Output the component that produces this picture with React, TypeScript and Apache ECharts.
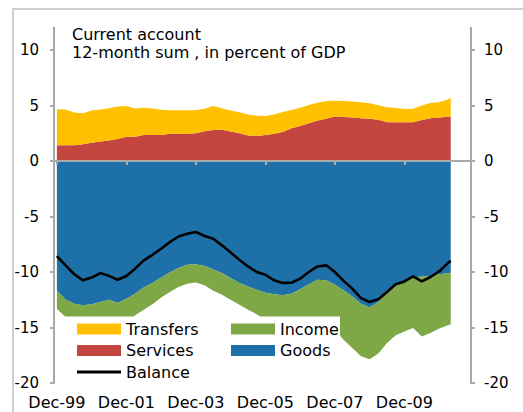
import React, { useEffect, useRef } from "react";
import * as echarts from "echarts";

// months since Dec-1999
const months = [0, 3, 6, 9, 12, 15, 18, 21, 24, 27, 30, 33, 36, 39, 42, 45, 48, 51, 54, 57, 60, 63, 66, 69, 72, 75, 78, 81, 84, 87, 90, 93, 96, 99, 102, 105, 108, 111, 114, 117, 120, 123, 126, 129, 132, 135, 136];

const services = [1.41, 1.41, 1.41, 1.5, 1.65, 1.75, 1.85, 1.99, 2.19, 2.19, 2.34, 2.34, 2.34, 2.46, 2.46, 2.46, 2.5, 2.67, 2.8, 2.82, 2.65, 2.5, 2.3, 2.25, 2.35, 2.46, 2.62, 2.95, 3.15, 3.4, 3.65, 3.81, 4.0, 3.97, 3.93, 3.86, 3.8, 3.72, 3.5, 3.48, 3.48, 3.48, 3.7, 3.85, 3.92, 3.98, 4.0];

const transfers = [3.25, 3.22, 2.97, 2.8, 2.9, 2.9, 2.9, 2.91, 2.76, 2.55, 2.46, 2.38, 2.28, 2.11, 2.12, 2.12, 2.08, 2.03, 2.15, 1.93, 1.9, 1.9, 1.9, 1.83, 1.7, 1.72, 1.8, 1.65, 1.65, 1.65, 1.6, 1.59, 1.42, 1.43, 1.44, 1.44, 1.4, 1.3, 1.35, 1.29, 1.2, 1.22, 1.3, 1.38, 1.38, 1.57, 1.7];

const goods = [-11.7, -12.5, -12.85, -13.0, -12.9, -12.7, -12.5, -12.8, -12.4, -11.95, -11.4, -11.0, -10.5, -10.05, -9.65, -9.35, -9.3, -9.46, -9.78, -10.1, -10.55, -11.0, -11.3, -11.6, -11.88, -12.0, -12.1, -11.95, -11.55, -11.1, -10.7, -10.75, -11.15, -11.65, -12.2, -12.85, -13.2, -12.7, -11.9, -11.3, -10.75, -10.5, -10.4, -10.35, -10.2, -10.12, -10.1];

const income = [-1.6, -1.55, -1.7, -2.0, -2.1, -2.1, -2.5, -2.5, -2.2, -1.95, -2.0, -1.9, -1.8, -1.75, -1.7, -1.7, -1.65, -1.74, -1.92, -1.95, -1.95, -1.95, -2.1, -2.2, -2.42, -2.9, -3.3, -3.6, -3.85, -3.95, -4.05, -4.05, -4.05, -4.45, -4.65, -4.75, -4.65, -4.65, -4.5, -4.4, -4.6, -4.55, -5.4, -5.15, -4.9, -4.68, -4.6];

const balance = [-8.56, -9.4, -10.2, -10.75, -10.5, -10.1, -10.35, -10.7, -10.36, -9.7, -8.95, -8.45, -7.9, -7.3, -6.8, -6.55, -6.4, -6.76, -7.0, -7.6, -8.25, -8.9, -9.5, -10.0, -10.25, -10.75, -10.98, -10.97, -10.6, -10.0, -9.5, -9.4, -10.0, -10.8, -11.5, -12.35, -12.7, -12.45, -11.8, -11.1, -10.85, -10.4, -10.85, -10.45, -9.95, -9.2, -9.0];

const xTickMonths = [0, 24, 48, 72, 96, 120];
const xTickLabels = ["Dec-99", "Dec-01", "Dec-03", "Dec-05", "Dec-07", "Dec-09"];
const yTicks = [-20, -15, -10, -5, 0, 5, 10];

const FONT = "DejaVu Sans";
const C_SERV = "#C4453F";
const C_TRANS = "#FFC000";
const C_GOODS = "#1E70A8";
const C_INC = "#7EA746";
const AXIS_GRAY = "#A8A8A8";

// value first, month second, so that stacking applies to the value dimension
function pairs(vals: number[]) {
  return vals.map((v, i) => [v, months[i]]);
}

export default function App() {
  const ref = useRef<HTMLDivElement>(null);
  useEffect(() => {
    if (!ref.current) return;
    const chart = echarts.init(ref.current, null, { renderer: "svg" });
    const areaSeries = (name: string, vals: number[], color: string) => ({
      name,
      type: "line",
      stack: "total",
      data: pairs(vals),
      encode: { x: 1, y: 0 },
      symbol: "none",
      showSymbol: false,
      lineStyle: { width: 0, color },
      itemStyle: { color },
      areaStyle: { color, opacity: 1 },
      z: 2,
    });
    const yAxisBase = (position: "left" | "right", margin: number) => ({
      type: "value",
      position,
      min: -20,
      max: 12,
      splitLine: { show: false },
      axisLine: { show: true, onZero: false, lineStyle: { color: AXIS_GRAY, width: 2 } },
      axisTick: { show: true, length: 4, customValues: yTicks, lineStyle: { color: AXIS_GRAY, width: 2 } },
      axisLabel: {
        customValues: yTicks,
        margin,
        color: "#000",
        fontFamily: FONT,
        fontSize: 15,
      },
    });
    chart.setOption({
      animation: false,
      backgroundColor: "#fff",
      grid: { left: 54, right: 52, top: 27.8, bottom: 29, containLabel: false },
      xAxis: [
        {
          type: "value",
          min: -1,
          max: 143,
          z: 5,
          splitLine: { show: false },
          axisLine: { show: true, onZero: true, lineStyle: { color: AXIS_GRAY, width: 2 } },
          axisTick: { show: true, inside: false, length: 4, customValues: xTickMonths, lineStyle: { color: AXIS_GRAY, width: 2 } },
          axisLabel: { show: false },
        },
        {
          type: "value",
          min: -1,
          max: 143,
          position: "bottom",
          splitLine: { show: false },
          axisLine: { show: false, onZero: false },
          axisTick: { show: false },
          axisLabel: {
            customValues: xTickMonths,
            margin: 11,
            color: "#000",
            fontFamily: FONT,
            fontSize: 16,
            formatter: (v: number) => {
              const i = xTickMonths.indexOf(v);
              return i >= 0 ? xTickLabels[i] : "";
            },
          },
        },
      ],
      yAxis: [yAxisBase("left", 15), yAxisBase("right", 13)],
      legend: [
        {
          orient: "vertical",
          left: 77,
          top: 321,
          padding: 0,
          itemWidth: 44,
          itemHeight: 11,
          itemGap: 5.5,
          selectedMode: false,
          textStyle: { color: "#000", fontFamily: FONT, fontSize: 16, lineHeight: 16 },
          data: [
            { name: "Transfers", icon: "rect" },
            { name: "Services", icon: "rect" },
            { name: "Balance", icon: "path://M0 0H44V3H0Z" },
          ],
        },
        {
          orient: "vertical",
          left: 231,
          top: 321,
          padding: 0,
          itemWidth: 44,
          itemHeight: 11,
          itemGap: 5.5,
          selectedMode: false,
          textStyle: { color: "#000", fontFamily: FONT, fontSize: 16, lineHeight: 16 },
          data: [
            { name: "Income", icon: "rect" },
            { name: "Goods", icon: "rect" },
          ],
        },
      ],
      graphic: [
        {
          type: "polyline",
          shape: { points: [[13, 412], [13, 9], [523, 9]] },
          style: { stroke: "#CFCFCF", lineWidth: 2, fill: "none" },
          silent: true,
          z: 0,
        },
        {
          type: "rect",
          shape: { x: 56, y: 316.5, width: 284, height: 68 },
          style: { fill: "#fff" },
          silent: true,
          z: 3,
        },
        {
          type: "text",
          x: 72,
          y: 34,
          style: { text: "Current account", fill: "#000", font: `16px "${FONT}"`, textVerticalAlign: "middle" },
          silent: true,
          z: 6,
        },
        {
          type: "text",
          x: 72,
          y: 52.5,
          style: { text: "12-month sum , in percent of GDP", fill: "#000", font: `16px "${FONT}"`, textVerticalAlign: "middle" },
          silent: true,
          z: 6,
        },
      ],
      series: [
        areaSeries("Goods", goods, C_GOODS),
        areaSeries("Income", income, C_INC),
        areaSeries("Services", services, C_SERV),
        areaSeries("Transfers", transfers, C_TRANS),
        {
          name: "Balance",
          type: "line",
          data: pairs(balance),
          encode: { x: 1, y: 0 },
          symbol: "none",
          showSymbol: false,
          lineStyle: { width: 2.6, color: "#000" },
          itemStyle: { color: "#000" },
          z: 3,
        },
      ],
    });
    return () => chart.dispose();
  }, []);
  return <div ref={ref} style={{ width: 523, height: 412, position: "absolute", left: 0, top: 0 }} />;
}
